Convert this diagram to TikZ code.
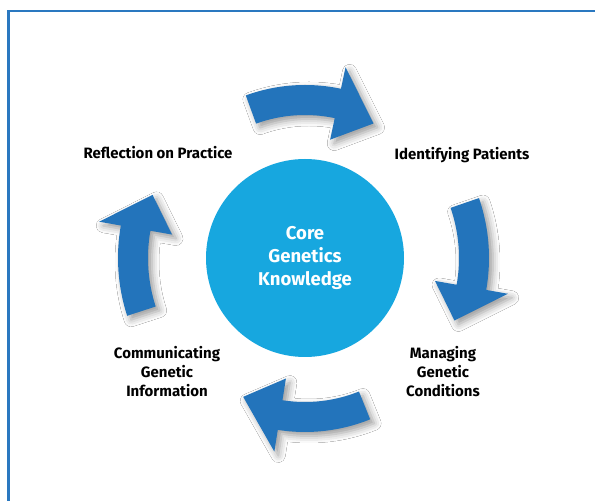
\documentclass[tikz,border=0pt]{standalone}
\usepackage{fontspec}
\setmainfont{Fira Sans}
\usetikzlibrary{shadows.blur}
\definecolor{arrowblue}{HTML}{2374BB}
\definecolor{coreblue}{HTML}{17A7DF}
\definecolor{frameblue}{HTML}{2A78C0}
\newcommand{\cyclearrow}[4]{%
  \fill[arrowblue, blur shadow={shadow xshift=4pt, shadow yshift=-4pt, shadow blur radius=7pt, shadow opacity=40}]
    (#2:{#1+15}) arc[start angle=#2, end angle=#3, radius={#1+15}]
    -- (#3:{#1+37}) -- (#4:{#1-7}) -- (#3:{#1-37}) -- (#3:{#1-15})
    arc[start angle=#3, end angle=#2, radius={#1-15}] -- cycle;}
\tikzset{
  lbl/.style={font=\fontsize{15}{19}\selectfont\bfseries, text=black, align=center, inner sep=0pt},
  core/.style={circle, fill=coreblue, minimum size=198pt, inner sep=0pt, text=white, align=center,
     font=\fontsize{18.5}{23}\selectfont\bfseries},
}
\begin{document}
\begin{tikzpicture}[x=1pt,y=1pt]
\useasboundingbox (0,0) rectangle (595,501);
\fill[white] (0,0) rectangle (595,501);
\draw[frameblue, line width=2.6pt] (8.6,-2) -- (8.6,490) -- (597,490);
\node[core] (core) at (305,243) {Core\\Genetics\\Knowledge};
\begin{scope}[shift={(core.center)}]
  \cyclearrow{158}{110}{78}{63}
  \cyclearrow{169}{19}{-10}{-22.7}
  \cyclearrow{159}{-68}{-99}{-114}
  \cyclearrow{172}{198}{170}{157.5}
\end{scope}
\node[lbl] (reflect) at (158,348) {Reflection on Practice};
\node[lbl] (ident) at (462,346) {Identifying Patients};
\node[lbl] (comm) at (167,129) {Communicating\\Genetic\\Information};
\node[lbl] (manage) at (443,129) {Managing\\Genetic\\Conditions};
\end{tikzpicture}
\end{document}
